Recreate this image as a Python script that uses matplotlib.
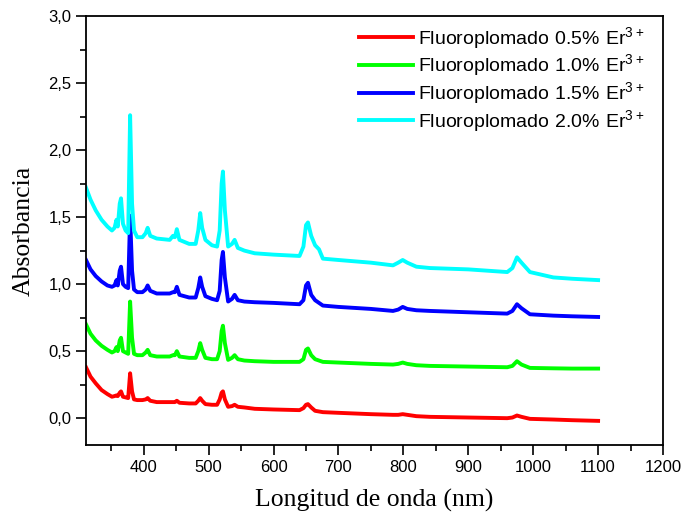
import numpy as np
import matplotlib
matplotlib.use("Agg")
import matplotlib.pyplot as plt
from matplotlib.ticker import MultipleLocator, FuncFormatter

# longitudes de onda (nm) comunes a las cuatro muestras
wl = [311, 318, 326, 335, 344, 351, 355, 358, 360, 363, 365, 368, 372, 376,
      379, 382, 385, 390, 398, 403, 406, 410, 420, 440, 445, 448, 451, 455,
      470, 480, 484, 487, 490, 495, 505, 513, 517, 520, 522, 525, 530, 536,
      540, 545, 555, 571, 600, 640, 646, 650, 653, 658, 664, 670, 676, 700,
      750, 784, 792, 799, 806, 820, 841, 900, 960, 968, 975, 982, 995, 1031,
      1060, 1100]

er_05 = [0.38, 0.31, 0.26, 0.21, 0.18, 0.16, 0.165, 0.17, 0.165, 0.19, 0.20, 0.16, 0.155, 0.15,
         0.335, 0.20, 0.14, 0.135, 0.135, 0.14, 0.15, 0.13, 0.12, 0.12, 0.12, 0.12, 0.13, 0.115,
         0.11, 0.11, 0.13, 0.15, 0.13, 0.105, 0.10, 0.10, 0.14, 0.19, 0.20, 0.14, 0.085, 0.09,
         0.10, 0.085, 0.08, 0.07, 0.065, 0.06, 0.075, 0.10, 0.105, 0.08, 0.055, 0.05, 0.045, 0.04,
         0.03, 0.025, 0.025, 0.03, 0.025, 0.015, 0.01, 0.005, 0.0, 0.005, 0.02, 0.01, -0.005, -0.01,
         -0.015, -0.02]

er_10 = [0.70, 0.63, 0.58, 0.54, 0.51, 0.49, 0.50, 0.53, 0.50, 0.58, 0.60, 0.50, 0.49, 0.48,
         0.87, 0.60, 0.48, 0.47, 0.47, 0.49, 0.51, 0.47, 0.46, 0.46, 0.47, 0.47, 0.50, 0.46,
         0.45, 0.45, 0.50, 0.56, 0.51, 0.45, 0.44, 0.44, 0.50, 0.65, 0.69, 0.56, 0.435, 0.45,
         0.47, 0.44, 0.43, 0.425, 0.42, 0.42, 0.44, 0.51, 0.52, 0.47, 0.44, 0.43, 0.42, 0.415,
         0.405, 0.40, 0.405, 0.415, 0.405, 0.395, 0.39, 0.385, 0.38, 0.39, 0.425, 0.40, 0.375, 0.372,
         0.37, 0.37]

er_15 = [1.18, 1.11, 1.06, 1.02, 0.99, 0.98, 0.99, 1.03, 0.99, 1.10, 1.13, 1.00, 0.98, 0.97,
         1.51, 1.10, 0.96, 0.94, 0.94, 0.96, 0.99, 0.95, 0.93, 0.93, 0.94, 0.94, 0.98, 0.92,
         0.90, 0.90, 0.97, 1.05, 0.98, 0.91, 0.89, 0.88, 0.95, 1.18, 1.24, 1.05, 0.87, 0.89,
         0.92, 0.88, 0.87, 0.865, 0.86, 0.85, 0.88, 0.99, 1.01, 0.92, 0.88, 0.86, 0.84, 0.83,
         0.815, 0.80, 0.81, 0.83, 0.815, 0.805, 0.80, 0.79, 0.78, 0.80, 0.85, 0.82, 0.775, 0.765,
         0.76, 0.755]

er_20 = [1.72, 1.63, 1.55, 1.48, 1.43, 1.40, 1.42, 1.48, 1.43, 1.60, 1.64, 1.45, 1.40, 1.38,
         2.26, 1.60, 1.40, 1.35, 1.35, 1.38, 1.42, 1.36, 1.34, 1.33, 1.36, 1.35, 1.41, 1.33,
         1.30, 1.30, 1.40, 1.53, 1.42, 1.33, 1.29, 1.28, 1.40, 1.75, 1.84, 1.55, 1.28, 1.30,
         1.33, 1.27, 1.25, 1.23, 1.22, 1.21, 1.28, 1.44, 1.46, 1.36, 1.29, 1.26, 1.19, 1.18,
         1.16, 1.14, 1.16, 1.18, 1.16, 1.13, 1.12, 1.11, 1.09, 1.12, 1.20, 1.16, 1.09, 1.05,
         1.04, 1.03]

labels = [r'$\mathregular{Fluoroplomado\ 0.5\%\ Er^{3+}}$',
          r'$\mathregular{Fluoroplomado\ 1.0\%\ Er^{3+}}$',
          r'$\mathregular{Fluoroplomado\ 1.5\%\ Er^{3+}}$',
          r'$\mathregular{Fluoroplomado\ 2.0\%\ Er^{3+}}$']
colors = ['#ff0000', '#00ff00', '#0000ff', '#00ffff']

plt.rcParams['font.family'] = ['Liberation Sans', 'DejaVu Sans']
plt.rcParams['mathtext.default'] = 'regular'

fig = plt.figure(figsize=(6.84, 5.16), dpi=100)
ax = fig.add_axes([0.1257, 0.1376, 0.8436, 0.8314])

for y, lab, c in zip([er_05, er_10, er_15, er_20], labels, colors):
    ax.plot(wl, y, color=c, lw=2.8, label=lab)

ax.set_xlim(311, 1200)
ax.set_ylim(-0.2, 3.0)
ax.xaxis.set_major_locator(MultipleLocator(100))
ax.xaxis.set_minor_locator(MultipleLocator(50))
ax.yaxis.set_major_locator(MultipleLocator(0.5))
ax.yaxis.set_minor_locator(MultipleLocator(0.25))
ax.yaxis.set_major_formatter(FuncFormatter(lambda v, p: ('%.1f' % v).replace('.', ',')))
ax.tick_params(which='major', direction='out', length=7, width=1.2, labelsize=12)
ax.tick_params(which='minor', direction='out', length=4, width=1.2)
for s in ax.spines.values():
    s.set_linewidth(1.3)

ax.set_xlabel('Longitud de onda (nm)', family=['Liberation Serif'], fontsize=18.5, labelpad=10)
ax.set_ylabel('Absorbancia', family=['Liberation Serif'], fontsize=18.5, labelpad=10)

ax.legend(loc='upper right', bbox_to_anchor=(0.988, 1.007), frameon=False, fontsize=14,
          handlelength=2.8, handletextpad=0.25, labelspacing=0.1, borderaxespad=0.2)

fig.savefig('out.png', dpi=100)
